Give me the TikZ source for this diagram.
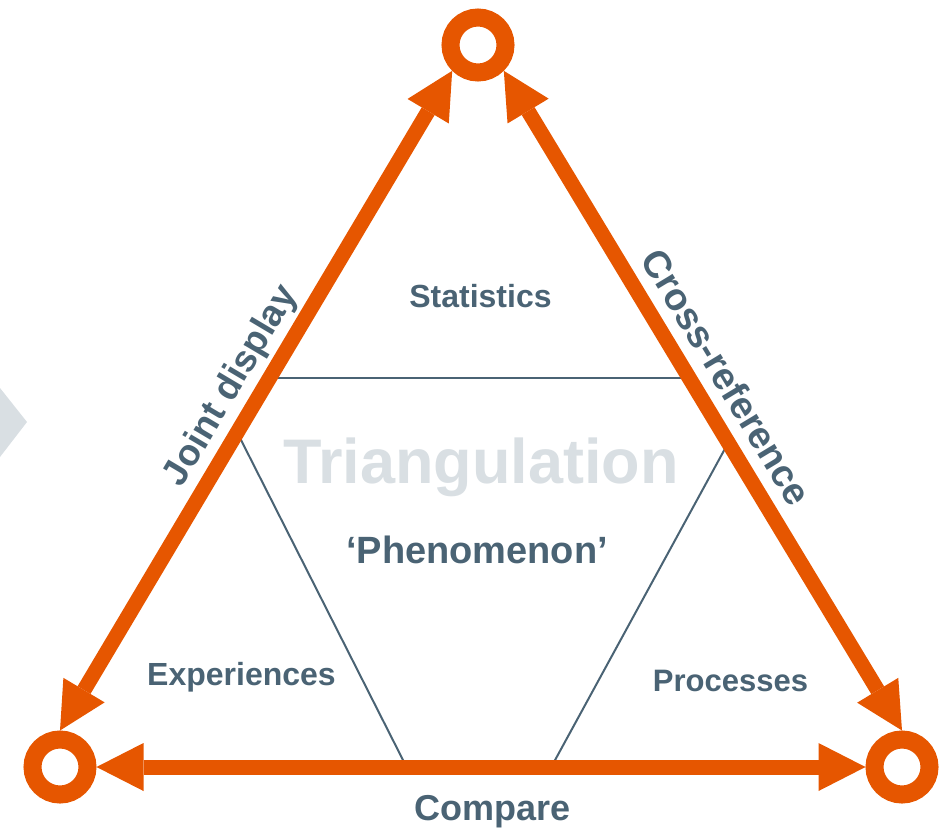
\documentclass[tikz,border=0pt]{standalone}
\usepackage{fontspec}
\setmainfont{Liberation Sans}
\usetikzlibrary{arrows.meta}
\definecolor{accent}{RGB}{230,86,0}
\definecolor{slate}{RGB}{74,99,116}
\definecolor{mist}{RGB}{217,223,227}

\begin{document}
\begin{tikzpicture}[x=1pt,y=-1pt,
  ring/.style={circle, draw=accent, line width=18pt, minimum size=55pt, inner sep=0pt},
  link/.style={draw=accent, line width=15pt, {Triangle[length=47pt,width=48pt,line width=0pt]}-{Triangle[length=47pt,width=48pt,line width=0pt]}},
  divider/.style={draw=slate, line width=2pt},
  txt/.style={text=slate, inner sep=0pt, anchor=base, font=\bfseries\fontsize{32}{38}\selectfont},
  side/.style={text=slate, inner sep=0pt, font=\bfseries\fontsize{37}{44}\selectfont},
]
\useasboundingbox (0,0) rectangle (948,836);

% grey chevron at the left edge
\fill[mist] (0,388) -- (27,422) -- (0,457) -- cycle;

% the three corner rings
\node[ring] (top) at (478,45) {};
\node[ring] (bl) at (60,767) {};
\node[ring] (br) at (902,767) {};

% inner dividing lines
\draw[divider] (272,378) -- (690,378);
\draw[divider] (239,436) -- (404,762);
\draw[divider] (727,445) -- (554,762);

% connectors between the rings
\draw[link] (bl.north) -- (top.225)
  node[side, pos=.5, sloped, above=19pt, anchor=base] (jd) {Joint display};
\draw[link] (top.315) -- (br.north)
  node[side, pos=.49, sloped, above=19pt, anchor=base, font=\bfseries\fontsize{38}{45}\selectfont] (cr) {Cross-reference};
\draw[link] (bl.east) -- (br.west);

% texts
\node[txt] (stat) at (480.5,307) {Statistics};
\node[txt, text=mist, font=\bfseries\fontsize{63}{75}\selectfont] (tri) at (481,483) {Triangulation};
\node[txt, font=\bfseries\fontsize{38}{45}\selectfont] (phen) at (477,563) {‘Phenomenon’};
\node[txt] (exp) at (241.5,685) {Experiences};
\node[txt, font=\bfseries\fontsize{31}{37}\selectfont] (proc) at (730.5,691) {Processes};
\node[txt, font=\bfseries\fontsize{36}{43}\selectfont] (cmp) at (493,820) {Compare};
\end{tikzpicture}
\end{document}
